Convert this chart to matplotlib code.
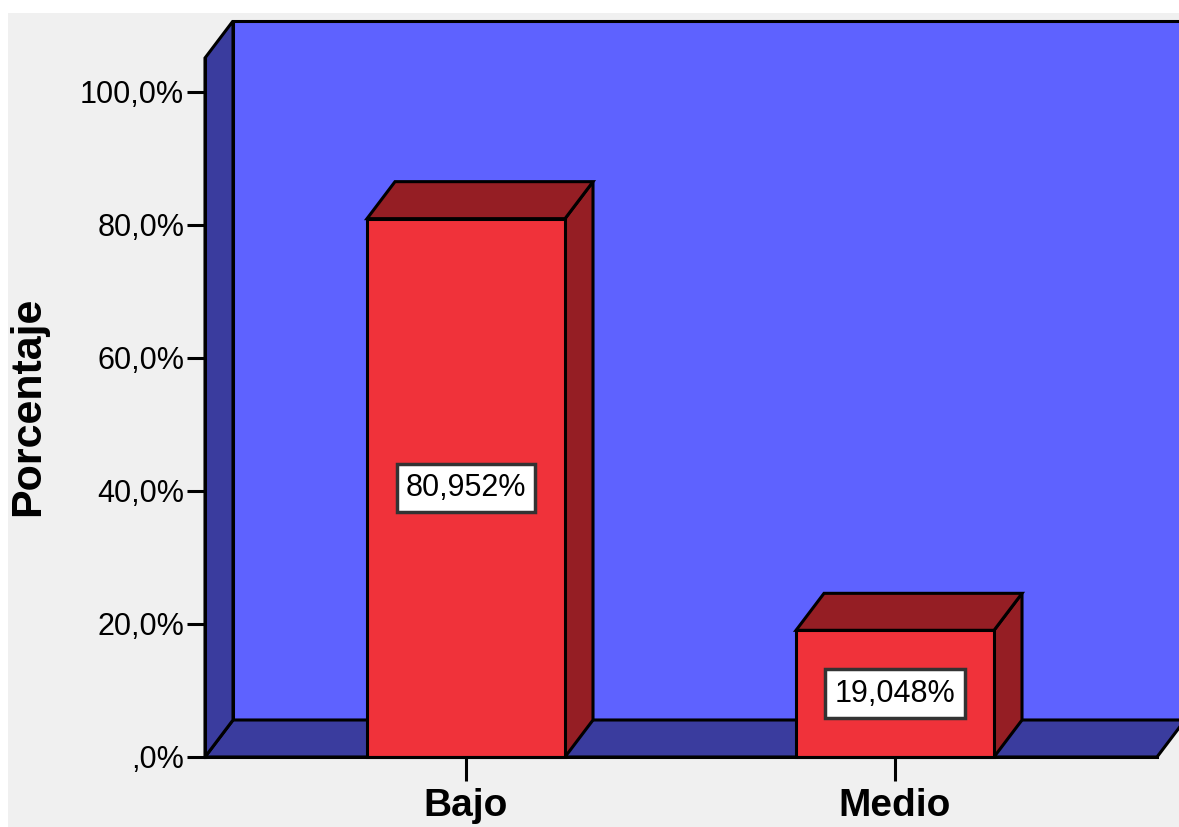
import matplotlib.pyplot as plt
from matplotlib.patches import Polygon, Rectangle

categories = ['Bajo', 'Medio']
percentages = [80.952, 19.048]
value_labels = ['80,952%', '19,048%']
y_ticks = [0, 20, 40, 60, 80, 100]
y_tick_labels = [',0%', '20,0%', '40,0%', '60,0%', '80,0%', '100,0%']

bg = '#f0f0f0'
wall_back = '#5e62ff'
wall_dark = '#3a3c9e'
bar_front = '#f0323a'
bar_dark = '#951e24'

plt.rcParams['font.family'] = ['Liberation Sans', 'DejaVu Sans']

fig = plt.figure(figsize=(11.79, 8.27), dpi=100, facecolor='white')
fig.patches.append(Rectangle((8 / 1179, 0), 1, (827 - 13) / 827,
                             transform=fig.transFigure, facecolor=bg,
                             edgecolor='none', zorder=-10))

W, H = 1179, 827
ax = fig.add_axes([205 / W, (H - 757) / H, (1157 - 205) / W, (757 - 58) / H])
ax.set_facecolor('none')

x0, x1 = -0.6084, 1.6107
y_top = 105.11
ax.set_xlim(x0, x1)
ax.set_ylim(0, y_top)

# depth of the 3D effect in data units
dx = 28 / 429
dy = 37 / 6.65
lw = 2.2

# back wall
ax.add_patch(Polygon([(x0 + dx, dy), (3, dy), (3, y_top + dy), (x0 + dx, y_top + dy)],
                     closed=True, facecolor=wall_back, edgecolor='black',
                     linewidth=lw, clip_on=False, zorder=1))
# floor
ax.add_patch(Polygon([(x0, 0), (x1, 0), (x1 + dx, dy), (x0 + dx, dy)],
                     closed=True, facecolor=wall_dark, edgecolor='black',
                     linewidth=lw, clip_on=False, zorder=2))
# left wall
ax.add_patch(Polygon([(x0, 0), (x0 + dx, dy), (x0 + dx, y_top + dy), (x0, y_top)],
                     closed=True, facecolor=wall_dark, edgecolor='black',
                     linewidth=lw, clip_on=False, zorder=2))

bw = 198 / 429
for i, v in enumerate(percentages):
    l, r = i - bw / 2, i + bw / 2
    ax.add_patch(Polygon([(r, 0), (r + dx, dy), (r + dx, v + dy), (r, v)],
                         closed=True, facecolor=bar_dark, edgecolor='black',
                         linewidth=lw, clip_on=False, zorder=3))
    ax.add_patch(Polygon([(l, v), (r, v), (r + dx, v + dy), (l + dx, v + dy)],
                         closed=True, facecolor=bar_dark, edgecolor='black',
                         linewidth=lw, clip_on=False, zorder=3))
ax.bar(range(len(categories)), percentages, width=bw, color=bar_front,
       edgecolor='black', linewidth=lw, zorder=4, clip_on=False)

for i, (v, t) in enumerate(zip(percentages, value_labels)):
    ax.text(i, v / 2, t, ha='center', va='center', fontsize=22, zorder=6,
            bbox=dict(boxstyle='square,pad=0.3', facecolor='white',
                      edgecolor='#333333', linewidth=2.5))

for s in ['top', 'right']:
    ax.spines[s].set_visible(False)
ax.spines['left'].set_linewidth(lw)
ax.spines['bottom'].set_linewidth(lw)
ax.spines['bottom'].set_bounds(x0, x1)
ax.spines['left'].set_bounds(0, y_top)
for s in ['left', 'bottom']:
    ax.spines[s].set_zorder(5)

ax.set_yticks(y_ticks)
ax.set_yticklabels(y_tick_labels)
ax.set_xticks(range(len(categories)))
ax.set_xticklabels(categories, fontweight='bold')
ax.tick_params(axis='y', direction='out', length=13, width=lw, pad=2, labelsize=22)
ax.tick_params(axis='x', direction='out', length=17, width=lw, pad=5, labelsize=28)

ax.set_ylabel('Porcentaje', fontsize=31, fontweight='bold')
ax.yaxis.set_label_coords(-157 / 952, (757 - 406) / 699)

fig.savefig('out.png', dpi=100)
